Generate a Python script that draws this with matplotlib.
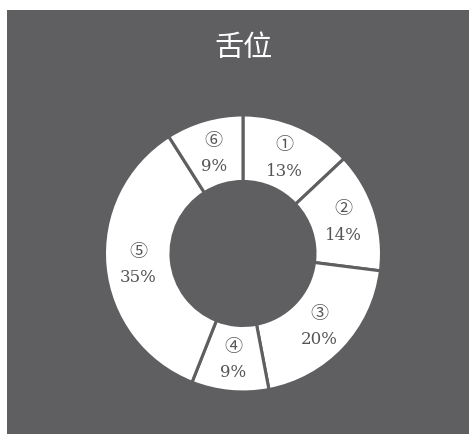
import numpy as np
import matplotlib.pyplot as plt
from matplotlib.patches import Rectangle

title = '舌位'
markers = ['①', '②', '③', '④', '⑤', '⑥']
shares = [13, 14, 20, 9, 35, 9]

bg = '#5f5f61'
label_color = '#555555'

fig = plt.figure(figsize=(4.7, 4.35), dpi=100, facecolor='white')
# dark panel, leaving a thin white strip at the top and left
fig.patches.append(Rectangle((7 / 470, 0), 462 / 470, 424 / 435,
                             transform=fig.transFigure, facecolor=bg,
                             edgecolor='none', zorder=-5))

fig.text(244 / 470, 1 - 48 / 435, title, color='white', fontsize=21,
         family=['Noto Sans CJK SC', 'DejaVu Sans'], ha='center', va='center')

ax = fig.add_axes([0.2223, 0.0966, 0.5894, 0.6368])
ax.axis('off')

ring = 0.48
wedges, _ = ax.pie(shares, radius=1, startangle=90, counterclock=False,
                   colors=['white'] * len(shares),
                   wedgeprops=dict(width=ring, edgecolor=bg, linewidth=2.2))
ax.set_xlim(-1, 1)
ax.set_ylim(-1, 1)

r_lab = 1 - ring / 2
for w, m, v in zip(wedges, markers, shares):
    ang = np.deg2rad((w.theta1 + w.theta2) / 2)
    x, y = r_lab * np.cos(ang), r_lab * np.sin(ang)
    ax.text(x, y + 0.09, m, ha='center', va='center', fontsize=13,
            color=label_color, family=['Noto Sans CJK JP', 'DejaVu Sans'])
    ax.text(x, y - 0.095, f'{v}%', ha='center', va='center', fontsize=12,
            color=label_color, family=['DejaVu Serif'])

fig.savefig('out.png', dpi=100, facecolor='white')
